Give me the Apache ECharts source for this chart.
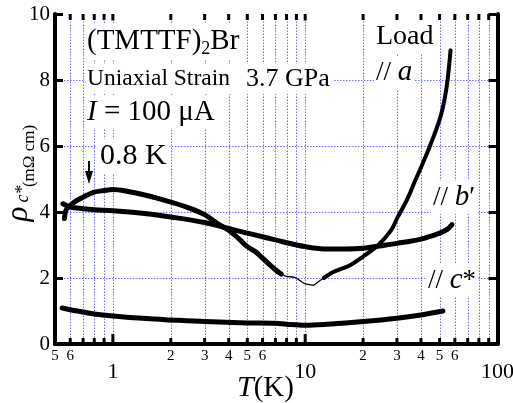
<!DOCTYPE html>
<html><head><meta charset="utf-8">
<script src="https://cdn.jsdelivr.net/npm/echarts@6/dist/echarts.min.js"></script>
<style>html,body{margin:0;padding:0;background:#fff}#c{width:513px;height:403px}</style>
</head><body><div id="c"></div>
<script>
// ---- data (T in K, rho in mOhm cm) ----
const cStarT   = [0.545, 0.6, 0.7, 0.8, 1.0, 1.5, 2.0, 3.0, 5.0, 7.0, 8.0, 10, 13, 20, 30, 40, 52];
const cStarRho = [1.09, 1.04, 0.97, 0.91, 0.85, 0.77, 0.73, 0.68, 0.64, 0.63, 0.60, 0.57, 0.60, 0.68, 0.78, 0.88, 1.0];

const bPrimeT   = [0.55, 0.6, 0.7, 0.8, 1.0, 1.5, 2.0, 3.0, 4.0, 5.0, 6.0, 8.0, 10, 13, 16, 20, 25, 30, 40, 50, 55, 58];
const bPrimeRho = [4.25, 4.15, 4.10, 4.07, 4.04, 3.95, 3.85, 3.68, 3.50, 3.36, 3.25, 3.07, 2.95, 2.88, 2.88, 2.90, 2.98, 3.05, 3.18, 3.36, 3.48, 3.62];

const aLowT   = [0.56, 0.57, 0.6, 0.65, 0.7, 0.8, 0.9, 1.0, 1.2, 1.5, 2.0, 2.5, 3.0, 3.5, 4.0, 4.5, 5.0, 5.5, 6.0, 7.0, 7.5];
const aLowRho = [3.80, 4.05, 4.20, 4.35, 4.45, 4.60, 4.65, 4.68, 4.62, 4.50, 4.30, 4.12, 3.92, 3.65, 3.45, 3.20, 2.95, 2.80, 2.60, 2.25, 2.12];

const aMidT   = [7.5, 8.0, 8.8, 9.5, 10.0, 10.5, 11.0, 11.5, 12.0, 12.5];
const aMidRho = [2.12, 2.05, 2.02, 1.90, 1.82, 1.80, 1.78, 1.85, 1.93, 2.00];

const aHighT   = [12.5, 14, 17, 20, 24, 28, 30, 34, 37, 40, 45, 50, 53, 55, 57];
const aHighRho = [2.00, 2.18, 2.38, 2.65, 3.00, 3.45, 3.80, 4.40, 4.90, 5.35, 6.07, 6.80, 7.40, 8.00, 8.90];

// ---- axis ticks / labels ----
const xMinorTicks = [0.6, 0.7, 0.8, 0.9, 2, 3, 4, 5, 6, 7, 8, 9, 20, 30, 40, 50, 60, 70, 80, 90];
const xMajorTicks = [1, 10];
const xGridLines  = [0.6, 0.7, 0.8, 0.9, 1, 2, 3, 4, 5, 6, 7, 8, 9, 10, 20, 30, 40, 50, 60, 70, 80, 90];
const yGridLines  = [2, 4, 6, 8];
const xSmallLabelVals = [0.5, 0.6, 2, 3, 4, 5, 6, 20, 30, 40, 50, 60];
const xSmallLabelText = ['5', '6', '2', '3', '4', '5', '6', '2', '3', '4', '5', '6'];
const xBigLabelVals = [1, 10, 100];
const xBigLabelText = ['1', '10', '100'];

const X_MIN = 0.5, X_MAX = 100, Y_MIN = 0, Y_MAX = 10;
const SERIF = '"Liberation Serif", "Times New Roman", serif';
const GRID_COLOR = '#6c6cff';

const zip = (a, b) => a.map((v, i) => [v, b[i]]);

function curve(name, T, R, w) {
  return {
    name, type: 'line', data: zip(T, R), showSymbol: false, smooth: 0.35,
    xAxisIndex: 0, yAxisIndex: 0, z: 20, silent: true,
    lineStyle: { color: '#000', width: w, cap: 'round', join: 'round' }
  };
}

const chart = echarts.init(document.getElementById('c'), null, { renderer: 'canvas' });

const axisLineStyle = { lineStyle: { color: '#000', width: 4 } };

chart.setOption({
  animation: false,
  backgroundColor: '#fff',
  grid: { left: 55, right: 15.5, top: 14, bottom: 59, containLabel: false },
  xAxis: [
    { type: 'log', logBase: 10, min: X_MIN, max: X_MAX, position: 'bottom', z: 30,
      axisLine: axisLineStyle, axisTick: { show: false }, axisLabel: { show: false }, splitLine: { show: false } },
    { type: 'log', logBase: 10, min: X_MIN, max: X_MAX, position: 'top', z: 30,
      axisLine: axisLineStyle, axisTick: { show: false }, axisLabel: { show: false }, splitLine: { show: false } }
  ],
  yAxis: [
    { type: 'value', min: Y_MIN, max: Y_MAX, interval: 2, position: 'left', z: 30,
      axisLine: { show: true, lineStyle: { color: '#000', width: 4 } },
      axisTick: { show: true, inside: true, length: 8, lineStyle: { color: '#000', width: 3 } },
      axisLabel: { color: '#000', fontFamily: SERIF, fontSize: 21, margin: 5 },
      splitLine: { show: false } },
    { type: 'value', min: Y_MIN, max: Y_MAX, interval: 2, position: 'right', z: 30,
      axisLine: { show: true, lineStyle: { color: '#000', width: 4 } },
      axisTick: { show: true, inside: true, length: 9, lineStyle: { color: '#000', width: 3 } },
      axisLabel: { show: false }, splitLine: { show: false } }
  ],
  series: [
    // vertical dotted grid
    { type: 'custom', z: 1, silent: true, xAxisIndex: 0, yAxisIndex: 0,
      data: xGridLines.map(v => [v, 0]),
      renderItem: (p, api) => {
        const a = api.coord([api.value(0), Y_MIN]), b = api.coord([api.value(0), Y_MAX]);
        const x = Math.round(a[0]) + 0.5;
        return { type: 'line', shape: { x1: x, y1: a[1], x2: x, y2: b[1] },
          style: { stroke: GRID_COLOR, lineWidth: 1, lineDash: [1.5, 1.5] } };
      } },
    // horizontal dotted grid
    { type: 'custom', z: 1, silent: true, xAxisIndex: 0, yAxisIndex: 0,
      data: yGridLines.map(v => [X_MIN, v]),
      renderItem: (p, api) => {
        const a = api.coord([X_MIN, api.value(1)]), b = api.coord([X_MAX, api.value(1)]);
        const y = Math.round(a[1]) + 0.5;
        return { type: 'line', shape: { x1: a[0], y1: y, x2: b[0], y2: y },
          style: { stroke: GRID_COLOR, lineWidth: 1, lineDash: [1.5, 1.5] } };
      } },
    curve('c*', cStarT, cStarRho, 5),
    curve("b'", bPrimeT, bPrimeRho, 5),
    curve('a-low', aLowT, aLowRho, 5),
    curve('a-mid', aMidT, aMidRho, 1.3),
    curve('a-high', aHighT, aHighRho, 4),
    // x ticks (bottom + top, inside)
    { type: 'custom', z: 25, silent: true, xAxisIndex: 0, yAxisIndex: 0, clip: false,
      data: xMinorTicks.map(v => [v, 6]).concat(xMajorTicks.map(v => [v, 10])),
      renderItem: (p, api) => {
        const T = api.value(0), len = api.value(1);
        const b = api.coord([T, Y_MIN]), t = api.coord([T, Y_MAX]);
        const lt = Math.min(len, 6.5);
        return { type: 'group', children: [
          { type: 'line', shape: { x1: b[0], y1: b[1], x2: b[0], y2: b[1] - len }, style: { stroke: '#000', lineWidth: 3 } },
          { type: 'line', shape: { x1: t[0], y1: t[1], x2: t[0], y2: t[1] + lt }, style: { stroke: '#000', lineWidth: 3 } }
        ] };
      } },
    // small x labels
    { type: 'custom', z: 25, silent: true, xAxisIndex: 0, yAxisIndex: 0, clip: false,
      data: xSmallLabelVals.map(v => [v, 0]),
      renderItem: (p, api) => {
        const b = api.coord([api.value(0), Y_MIN]);
        return { type: 'text', x: b[0], y: b[1] + 12,
          style: { text: xSmallLabelText[p.dataIndex], font: '15px ' + SERIF, fill: '#000',
            align: 'center', verticalAlign: 'middle' } };
      } },
    // big x labels
    { type: 'custom', z: 25, silent: true, xAxisIndex: 0, yAxisIndex: 0, clip: false,
      data: xBigLabelVals.map(v => [v, 0]),
      renderItem: (p, api) => {
        const b = api.coord([api.value(0), Y_MIN]);
        return { type: 'text', x: b[0], y: b[1] + 28,
          style: { text: xBigLabelText[p.dataIndex], font: '22px ' + SERIF, fill: '#000',
            align: 'center', verticalAlign: 'middle' } };
      } }
  ],
  graphic: [
    { type: 'text', z: 10, left: 84, top: 23,
      style: { text: '{n|(TMTTF)}{s|2}{n|Br}', fill: '#000', backgroundColor: '#fff', padding: [2, 3],
        rich: { n: { font: '29px ' + SERIF, fill: '#000' }, s: { font: '18px ' + SERIF, fill: '#000', padding: [15, 0, 0, 0] } } } },
    { type: 'text', z: 10, left: 84, top: 64,
      style: { text: '{s|Uniaxial Strain}{g| }{n|3.7 GPa}', fill: '#000', backgroundColor: '#fff', padding: [2, 3],
        rich: { s: { font: '23.5px ' + SERIF, fill: '#000' }, g: { font: '23.5px ' + SERIF, width: 16 }, n: { font: '26px ' + SERIF, fill: '#000' } } } },
    { type: 'text', z: 10, left: 84, top: 96,
      style: { text: '{i|I}{n| = 100 μA}', fill: '#000', backgroundColor: '#fff', padding: [2, 3],
        rich: { i: { font: 'italic 29px ' + SERIF, fill: '#000' }, n: { font: '29px ' + SERIF, fill: '#000' } } } },
    { type: 'text', z: 10, left: 97, top: 139,
      style: { text: '0.8 K', font: '30px ' + SERIF, fill: '#000', backgroundColor: '#fff', padding: [2, 3] } },
    { type: 'line', z: 26, shape: { x1: 89, y1: 161, x2: 89, y2: 175 }, style: { stroke: '#000', lineWidth: 2 } },
    { type: 'polygon', z: 26, shape: { points: [[85, 171], [93, 171], [89, 184]] }, style: { fill: '#000' } },
    { type: 'text', z: 10, left: 374, top: 21,
      style: { text: 'Load', font: '28px ' + SERIF, fill: '#000', backgroundColor: '#fff', padding: [2, 2] } },
    { type: 'text', z: 10, left: 374, top: 56,
      style: { text: '{n|// }{i|a}', fill: '#000', backgroundColor: '#fff', padding: [2, 2],
        rich: { n: { font: '27px ' + SERIF, fill: '#000' }, i: { font: 'italic 29px ' + SERIF, fill: '#000' } } } },
    { type: 'text', z: 10, left: 431, top: 181,
      style: { text: '{n|// }{i|b}{n|′}', fill: '#000', backgroundColor: '#fff', padding: [2, 2],
        rich: { n: { font: '27px ' + SERIF, fill: '#000' }, i: { font: 'italic 29px ' + SERIF, fill: '#000' } } } },
    { type: 'text', z: 10, left: 426, top: 264,
      style: { text: '{n|// }{i|c}{n|*}', fill: '#000', backgroundColor: '#fff', padding: [2, 2],
        rich: { n: { font: '27px ' + SERIF, fill: '#000' }, i: { font: 'italic 29px ' + SERIF, fill: '#000' } } } },
    // y-axis title (rotated)
    { type: 'text', z: 10, x: 19, y: 214, rotation: Math.PI / 2,
      style: { text: 'ρ', font: 'italic 31px ' + SERIF, fill: '#000', align: 'center', verticalAlign: 'middle' } },
    { type: 'text', z: 10, x: 23, y: 194, rotation: Math.PI / 2,
      style: { text: 'c*', font: 'italic 18px ' + SERIF, fill: '#000', align: 'center', verticalAlign: 'middle' } },
    { type: 'text', z: 10, x: 30, y: 156, rotation: Math.PI / 2,
      style: { text: '(mΩ cm)', font: '17px ' + SERIF, fill: '#000', align: 'center', verticalAlign: 'middle' } },
    // x-axis title
    { type: 'text', z: 10, left: 237, top: 373,
      style: { text: '{i|T}{n|(K)}', fill: '#000',
        rich: { i: { font: 'italic 30px ' + SERIF, fill: '#000' }, n: { font: '29px ' + SERIF, fill: '#000' } } } }
  ]
});
</script></body></html>
